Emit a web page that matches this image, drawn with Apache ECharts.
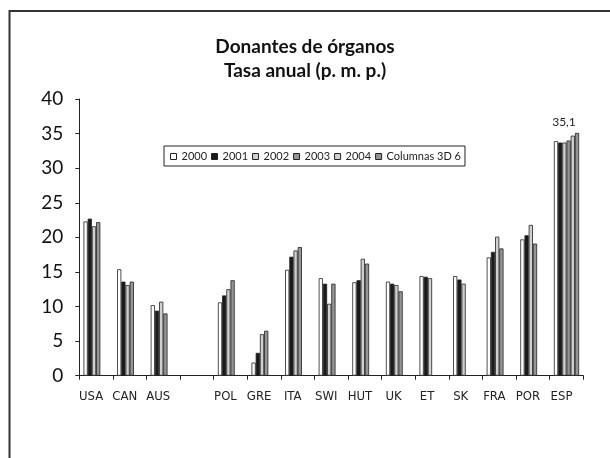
<!DOCTYPE html>
<html><head><meta charset="utf-8">
<script src="https://cdn.jsdelivr.net/npm/echarts@6/dist/echarts.min.js"></script>
<style>html,body{margin:0;padding:0;background:#fff}#c{width:610px;height:458px}</style>
</head><body><div id="c"></div>
<script>
const categories = ['USA','CAN','AUS','','POL','GRE','ITA','SWI','HUT','UK','ET','SK','FRA','POR','ESP'];
const seriesNames = ['2000','2001','2002','2003','2004','Columnas 3D 6'];
const s2000 = [22.3,15.4,10.2,null,10.6,1.9,15.3,14.1,13.5,13.6,14.4,14.4,17.1,19.7,33.9];
const s2001 = [22.7,13.6,9.4,null,11.6,3.3,17.2,13.3,13.8,13.3,14.3,13.9,17.9,20.3,33.7];
const s2002 = [21.6,13.1,10.7,null,12.5,6.0,18.1,10.4,16.9,13.1,14.1,13.3,20.1,21.8,33.7];
const s2003 = [22.2,13.6,9.0,null,13.8,6.5,18.6,13.3,16.2,12.2,null,null,18.4,19.1,34.0];
const s2004 = [null,null,null,null,null,null,null,null,null,null,null,null,null,null,34.7];
const s6 = [null,null,null,null,null,null,null,null,null,null,null,null,null,null,35.1];
const yTicks = [0,5,10,15,20,25,30,35,40];
const colors = ['#ffffff','#1a1a1a','#cfcfcf','#959595','#cfcfcf','#959595'];
const allData = [s2000,s2001,s2002,s2003,s2004,s6];

const chart = echarts.init(document.getElementById('c'));
const series = allData.map((d,i)=>({
  name: seriesNames[i], type:'bar', data:d,
  barWidth: 4.2, barGap: '0%',
  itemStyle:{color:colors[i], borderColor:'#222', borderWidth:0.8},
  label: i===5 ? {show:true, position:'top', distance:5, offset:[-13,0], formatter:p=>String(p.value).replace('.',','), fontFamily:'Lato', fontSize:12, color:'#222'} : {show:false}
}));
chart.setOption({
  animation:false,
  title:{text:'Donantes de órganos\nTasa anual (p. m. p.)', left:'center', top:30,
    textStyle:{fontFamily:'Lato', fontWeight:'bold', fontSize:19, lineHeight:24, color:'#111'}},
  legend:{data:seriesNames, left:164, top:146, itemWidth:6, itemHeight:6, itemGap:4,
    borderColor:'#222', borderWidth:1, padding:[5,4,4,6], icon:'rect',
    textStyle:{fontFamily:'Lato', fontSize:11, color:'#222'},
    itemStyle:{borderColor:'#222', borderWidth:1}},
  grid:{left:79.3, right:26.7, top:99, bottom:82.3, containLabel:false},
  xAxis:{type:'category', data:categories,
    axisLine:{lineStyle:{color:'#222', width:1}},
    axisTick:{show:true, length:4, lineStyle:{color:'#222'}},
    axisLabel:{fontFamily:'DejaVu Sans Condensed, sans-serif', fontSize:13, color:'#222', margin:14, interval:0, padding:[0,10,0,0]}},
  yAxis:{type:'value', min:0, max:40, interval:5,
    axisLine:{show:true, lineStyle:{color:'#222', width:1}},
    axisTick:{show:true, length:4, lineStyle:{color:'#222'}},
    splitLine:{show:false},
    axisLabel:{fontFamily:'Lato', fontSize:19, color:'#111', margin:16, padding:[4,0,0,0],
      formatter:v=>yTicks.includes(v)?String(v):''}},
  graphic:[{type:'rect', shape:{x:9.5, y:11, width:700, height:500},
    style:{fill:null, stroke:'#333', lineWidth:2}, silent:true, z:-1}],
  series: series
});
</script></body></html>
